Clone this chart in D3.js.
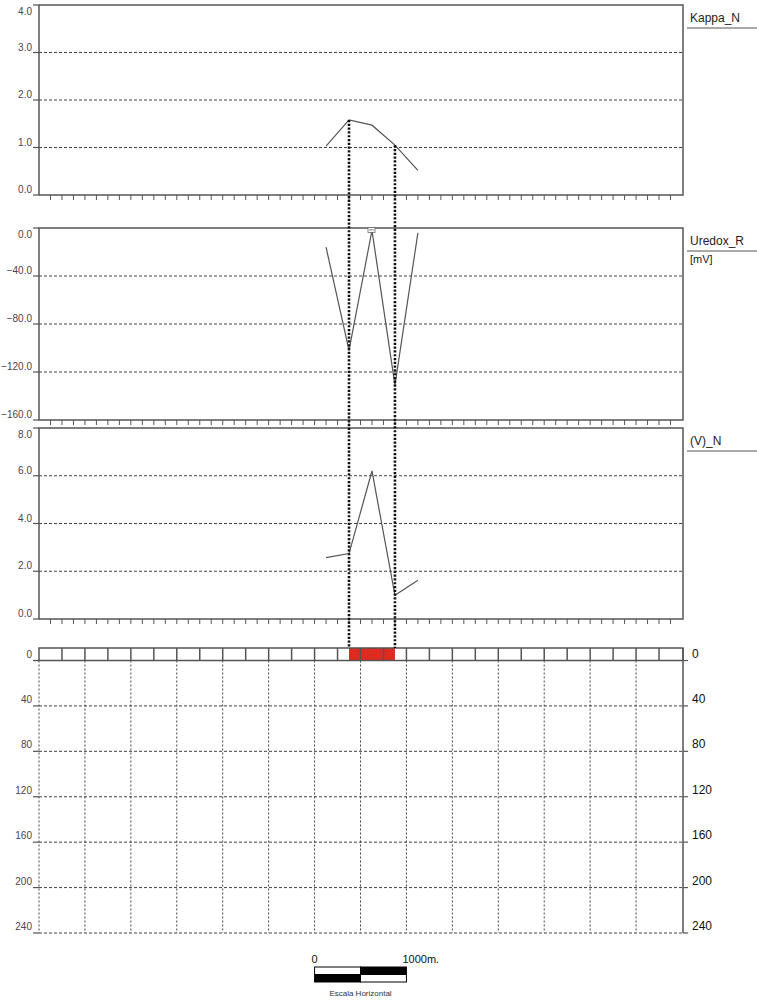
<!DOCTYPE html>
<html>
<head>
<meta charset="utf-8">
<script src="https://cdn.jsdelivr.net/npm/d3@7"></script>
<style>
  body { margin: 0; background: #fff; }
  svg text { font-family: "Liberation Sans", Arial, sans-serif; }
</style>
</head>
<body>
<div id="chart"></div>
<script>
// station positions along the profile (m)
var stations = [3125, 3375, 3625, 3875, 4125];
var kappaN = [1.03, 1.58, 1.47, 1.05, 0.52];
var uredoxR = [-16, -102, -2, -131, -4];
var vN = [2.57, 2.74, 6.2, 0.99, 1.62];

// anomaly limits (m) marked in red on the surface strip
var anomaly = [3375, 3875];

var kappaTicks = [0, 1, 2, 3, 4];
var uredoxTicks = [0, -40, -80, -120, -160];
var vTicks = [0, 2, 4, 6, 8];
var depthTicks = [0, 40, 80, 120, 160, 200, 240];

var W = 757, H = 1003;
var left = 39, right = 683;

var svg = d3.select('#chart').append('svg')
    .attr('width', W)
    .attr('height', H);

var x = d3.scaleLinear().domain([0, 7000]).range([left, right - 1]);

var grid = '#444', frame = '#555';

function drawPanel(cfg) {
  var y = d3.scaleLinear().domain(cfg.domain).range([cfg.bottom, cfg.top]);
  var g = svg.append('g');

  // dashed gridlines
  g.selectAll('line.grid')
      .data(cfg.ticks.filter(function(t) { return t != cfg.domain[0] && t != cfg.domain[1]; }))
      .enter().append('line')
      .attr('x1', left).attr('x2', right)
      .attr('y1', y).attr('y2', y)
      .style('stroke', grid)
      .style('stroke-width', 1)
      .style('stroke-dasharray', '3,2');

  // frame
  g.append('rect')
      .attr('x', left).attr('y', cfg.top)
      .attr('width', right - left).attr('height', cfg.bottom - cfg.top)
      .style('fill', 'none')
      .style('stroke', frame)
      .style('stroke-width', 1.5);

  // left ticks + labels
  g.selectAll('line.yt')
      .data(cfg.ticks)
      .enter().append('line')
      .attr('x1', left - 6).attr('x2', left)
      .attr('y1', y).attr('y2', y)
      .style('stroke', frame)
      .style('stroke-width', 1.2);

  var topVal = cfg.domain[1];
  g.selectAll('text.yl')
      .data(cfg.ticks)
      .enter().append('text')
      .attr('x', left - 7)
      // the top label is pushed down inside the frame
      .attr('y', function(d) { return d == topVal ? y(d) + 10 : y(d) - 2; })
      .attr('text-anchor', 'end')
      .style('font-size', '10px')
      .style('fill', '#4a4552')
      .text(d3.format('.1f'));

  // bottom station ticks
  g.selectAll('line.xt')
      .data(d3.range(125, 7000, 125))
      .enter().append('line')
      .attr('x1', x).attr('x2', x)
      .attr('y1', cfg.bottom).attr('y2', cfg.bottom + 5)
      .style('stroke', frame)
      .style('stroke-width', 1);

  // data line
  var line = d3.line()
      .x(function(d, i) { return x(stations[i]); })
      .y(function(d) { return y(d); });

  g.append('path')
      .datum(cfg.values)
      .attr('d', line)
      .style('fill', 'none')
      .style('stroke', '#555')
      .style('stroke-width', 1.2);

  // title on the right
  g.append('text')
      .attr('x', 690)
      .attr('y', cfg.top + 17)
      .style('font-size', '12px')
      .style('fill', '#222')
      .text(cfg.name);

  g.append('line')
      .attr('x1', 687).attr('x2', W)
      .attr('y1', cfg.top + 23).attr('y2', cfg.top + 23)
      .style('stroke', '#555')
      .style('stroke-width', 1);

  if (cfg.unit) {
    g.append('text')
        .attr('x', 690)
        .attr('y', cfg.top + 35)
        .style('font-size', '11px')
        .style('fill', '#222')
        .text(cfg.unit);
  }
  return y;
}

var yK = drawPanel({ name: 'Kappa_N', domain: [0, 4], ticks: kappaTicks, values: kappaN, top: 5, bottom: 195 });
var yU = drawPanel({ name: 'Uredox_R', unit: '[mV]', domain: [-160, 0], ticks: uredoxTicks, values: uredoxR, top: 228, bottom: 420 });
var yV = drawPanel({ name: '(V)_N', domain: [0, 8], ticks: vTicks, values: vN, top: 428, bottom: 619 });

// small marker at the Uredox maximum
var iMax = d3.maxIndex(uredoxR);
svg.append('rect')
    .attr('x', x(stations[iMax]) - 4)
    .attr('y', yU(uredoxR[iMax]) - 3)
    .attr('width', 7).attr('height', 5)
    .style('fill', '#fff')
    .style('stroke', '#666')
    .style('stroke-width', 0.8);
svg.append('line')
    .attr('x1', x(stations[iMax]) - 3).attr('x2', x(stations[iMax]) + 2)
    .attr('y1', yU(uredoxR[iMax]) - 0.5).attr('y2', yU(uredoxR[iMax]) - 0.5)
    .style('stroke', '#666')
    .style('stroke-width', 0.8);

// ---- depth section ----
var stripTop = 648, stripBottom = 660.5;
var yD = d3.scaleLinear().domain([0, 240]).range([stripBottom, 933]);

var sect = svg.append('g');

// horizontal dashed depth lines
sect.selectAll('line.dh')
    .data(depthTicks.slice(1))
    .enter().append('line')
    .attr('x1', left).attr('x2', right)
    .attr('y1', yD).attr('y2', yD)
    .style('stroke', grid)
    .style('stroke-width', 1)
    .style('stroke-dasharray', '3,2');

// vertical dotted lines every 500 m
sect.selectAll('line.dv')
    .data(d3.range(0, 7000, 500))
    .enter().append('line')
    .attr('x1', x).attr('x2', x)
    .attr('y1', stripBottom).attr('y2', yD(240))
    .style('stroke', grid)
    .style('stroke-width', 1)
    .style('stroke-dasharray', '2,2');

// right solid axis
sect.append('line')
    .attr('x1', right).attr('x2', right)
    .attr('y1', stripTop).attr('y2', yD(240))
    .style('stroke', frame)
    .style('stroke-width', 1.5);

// ticks both sides
sect.selectAll('line.dl')
    .data(depthTicks)
    .enter().append('line')
    .attr('x1', left - 6).attr('x2', left)
    .attr('y1', yD).attr('y2', yD)
    .style('stroke', frame)
    .style('stroke-width', 1.2);
sect.selectAll('line.dr')
    .data(depthTicks)
    .enter().append('line')
    .attr('x1', right).attr('x2', right + 5)
    .attr('y1', yD).attr('y2', yD)
    .style('stroke', frame)
    .style('stroke-width', 1.2);

sect.selectAll('text.dlab')
    .data(depthTicks)
    .enter().append('text')
    .attr('x', left - 7)
    .attr('y', function(d) { return yD(d) - 3; })
    .attr('text-anchor', 'end')
    .style('font-size', '10px')
    .style('fill', '#4a4552')
    .text(function(d) { return d; });

sect.selectAll('text.drab')
    .data(depthTicks)
    .enter().append('text')
    .attr('x', 692)
    .attr('y', function(d) { return yD(d) - 3; })
    .style('font-size', '12px')
    .style('fill', '#111')
    .text(function(d) { return d; });

// surface strip of cells (250 m)
sect.append('rect')
    .attr('x', x(anomaly[0])).attr('y', stripTop)
    .attr('width', x(anomaly[1]) - x(anomaly[0]))
    .attr('height', stripBottom - stripTop)
    .style('fill', '#de2a1f');

sect.append('rect')
    .attr('x', left).attr('y', stripTop)
    .attr('width', right - left).attr('height', stripBottom - stripTop)
    .style('fill', 'none')
    .style('stroke', frame)
    .style('stroke-width', 1.5);

sect.selectAll('line.cell')
    .data(d3.range(250, 7000, 250))
    .enter().append('line')
    .attr('x1', x).attr('x2', x)
    .attr('y1', stripTop).attr('y2', stripBottom)
    .style('stroke', frame)
    .style('stroke-width', 1.5);

sect.append('line')
    .attr('x1', left - 5).attr('x2', left)
    .attr('y1', stripBottom).attr('y2', stripBottom)
    .style('stroke', frame)
    .style('stroke-width', 1.2);

// thick dotted connectors from Kappa down to the strip
anomaly.forEach(function(a) {
  var i = stations.indexOf(a);
  svg.append('line')
      .attr('x1', x(a)).attr('x2', x(a))
      .attr('y1', yK(kappaN[i])).attr('y2', stripTop)
      .style('stroke', '#111')
      .style('stroke-width', 2.6)
      .style('stroke-dasharray', '2.2,1.6');
});

// ---- scale bar ----
var sb0 = x(3000), sb1 = x(4000), sbm = (sb0 + sb1) / 2;
var sbTop = 967, sbH = 7.5;
var sb = svg.append('g');
[[sb0, 0, '#fff'], [sbm, 0, '#000'], [sb0, 1, '#000'], [sbm, 1, '#fff']].forEach(function(c) {
  sb.append('rect')
      .attr('x', c[0]).attr('y', sbTop + c[1] * sbH)
      .attr('width', sbm - sb0).attr('height', sbH)
      .style('fill', c[2])
      .style('stroke', '#000')
      .style('stroke-width', 1);
});
sb.append('text')
    .attr('x', sb0).attr('y', 963)
    .attr('text-anchor', 'middle')
    .style('font-size', '11px')
    .style('fill', '#111')
    .text('0');
sb.append('text')
    .attr('x', sb1 - 4).attr('y', 963)
    .style('font-size', '11px')
    .style('fill', '#111')
    .text('1000m.');
sb.append('text')
    .attr('x', sbm).attr('y', 996)
    .attr('text-anchor', 'middle')
    .style('font-size', '8px')
    .style('fill', '#333')
    .text('Escala Horizontal');
</script>
</body>
</html>
